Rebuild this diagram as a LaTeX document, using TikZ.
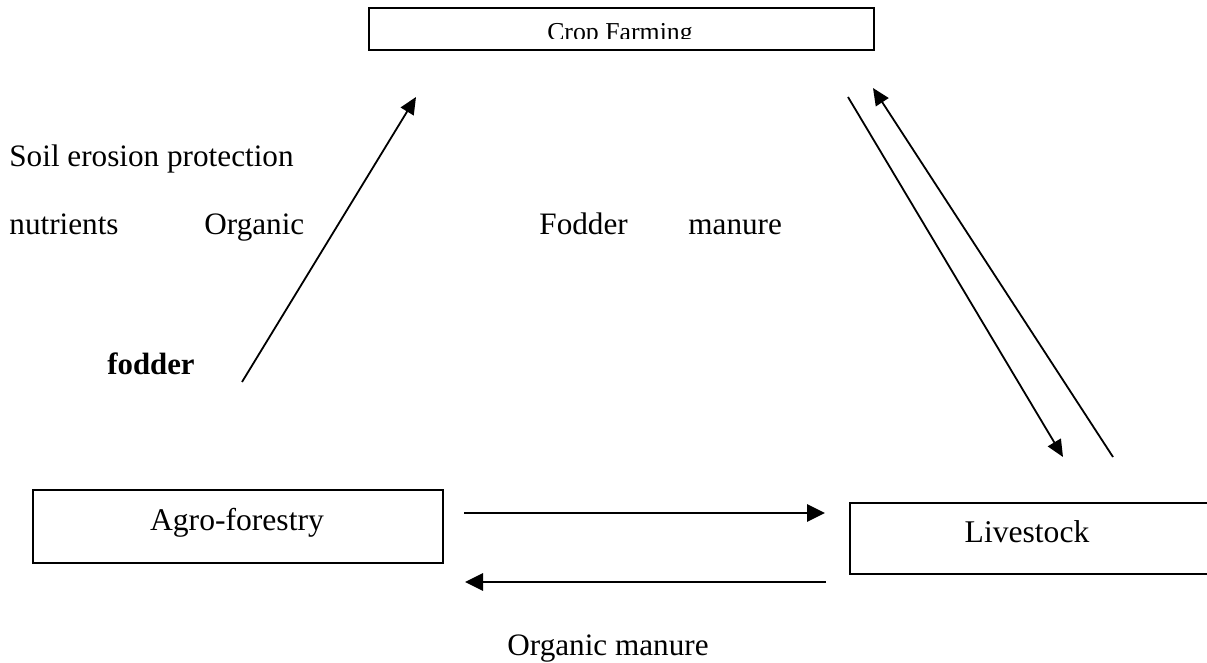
\documentclass[tikz,border=0pt]{standalone}
\usepackage{fontspec}
\setmainfont{Liberation Serif}
\usetikzlibrary{arrows.meta,positioning}
\tikzset{
  line/.style={-{Triangle[length=9pt,width=8.5pt]}, line width=1.4pt},
  thinline/.style={-{Triangle[length=8.5pt,width=7.5pt]}, line width=0.9pt},
  box/.style={draw, line width=1.1pt, inner sep=0pt, anchor=north west},
  boxtext/.style={inner sep=0pt, anchor=base, font=\fontsize{15.8}{19}\selectfont},
  lbl/.style={inner sep=0pt, anchor=base west, font=\fontsize{15.6}{19}\selectfont}
}

\begin{document}
\begin{tikzpicture}[x=0.5pt,y=-0.5pt]
  \useasboundingbox (0,0) rectangle (1207,663);

  % boxes
  \node[box, minimum width=252.5pt, minimum height=21pt] (crop) at (368,7) {};
  \node[box, minimum width=205pt, minimum height=36.5pt] (agro) at (32,489) {};
  \node[box, minimum width=183pt, minimum height=35.5pt] (live) at (849,502) {};

  \begin{scope}
    \clip (crop.north west) rectangle (873,39);
    \node[boxtext, font=\fontsize{12.9}{15}\selectfont] (croptext) at (620,41) {Crop Farming};
  \end{scope}
  \node[boxtext] (agrotext) at (237,531) {Agro-forestry};
  \node[boxtext] (livetext) at (1027,543) {Livestock};

  % labels
  \node[lbl] (soil) at (9,167) {Soil erosion protection};
  \node[lbl] (nutr) at (9,235) {nutrients};
  \node[lbl] (org) at (204,235) {Organic};
  \node[lbl] (fodd) at (539,235) {Fodder};
  \node[lbl] (man) at (688,235) {manure};
  \node[lbl, font=\fontsize{15.4}{19}\selectfont\bfseries] (foddb) at (107,375) {fodder};
  \node[lbl] (orgman) at (507,655) {Organic manure};

  % arrow ends
  \coordinate (af1) at (464,513);
  \coordinate (ls1) at (825,513);
  \coordinate (ls2) at (826,582);
  \coordinate (af2) at (465,582);
  \coordinate (af3) at (242,382);
  \coordinate (cf1) at (416,97);
  \coordinate (cf2) at (848,97);
  \coordinate (ls3) at (1063,457);
  \coordinate (ls4) at (1113,457);
  \coordinate (cf3) at (873,88);

  \draw[line] (af1) -- (ls1);
  \draw[line] (ls2) -- (af2);
  \draw[thinline] (af3) -- (cf1);
  \draw[thinline] (cf2) -- (ls3);
  \draw[thinline] (ls4) -- (cf3);
\end{tikzpicture}
\end{document}
